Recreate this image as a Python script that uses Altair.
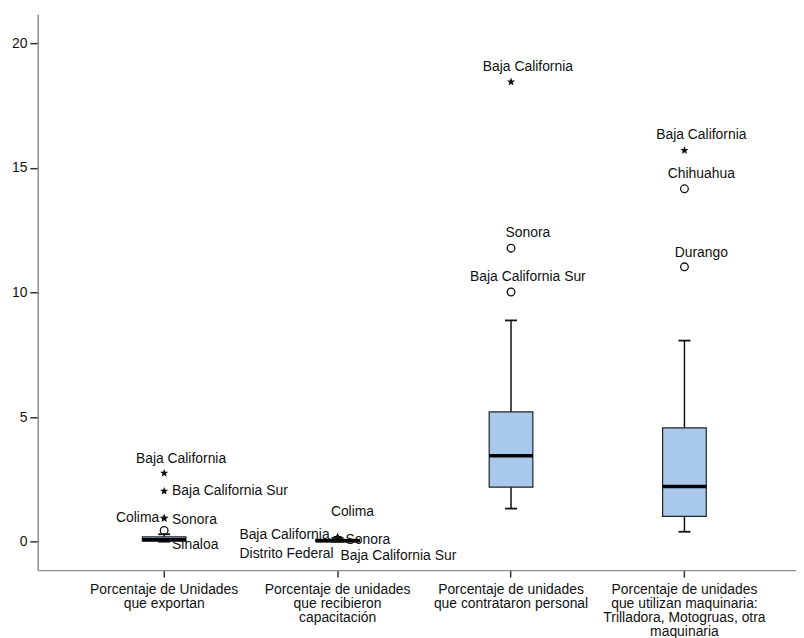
import math
import altair as alt
import pandas as pd

# ---- data ----
categories = [
    "Porcentaje de Unidades|que exportan",
    "Porcentaje de unidades|que recibieron|capacitación",
    "Porcentaje de unidades|que contrataron personal",
    "Porcentaje de unidades|que utilizan maquinaria:|Trilladora, Motogruas, otra|maquinaria",
]
whisker_low = [0.0, 0.0, 1.33, 0.40]
q1 = [0.02, 0.0, 2.19, 1.02]
median = [0.09, 0.04, 3.45, 2.22]
q3 = [0.20, 0.10, 5.21, 4.57]
whisker_high = [0.30, 0.15, 8.88, 8.07]

outlier_cat = [0, 0, 0, 0, 0, 1, 1, 1, 1, 1, 2, 2, 2, 3, 3, 3]
outlier_name = [
    "Baja California", "Baja California Sur", "Colima", "Sonora", "Sinaloa",
    "Colima", "Baja California", "Sonora", "Distrito Federal", "Baja California Sur",
    "Baja California", "Sonora", "Baja California Sur",
    "Baja California", "Chihuahua", "Durango",
]
outlier_value = [2.75, 2.03, 0.95, 0.93, 0.45,
                 0.17, 0.17, 0.17, 0.17, 0.17,
                 18.45, 11.78, 10.02,
                 15.70, 14.16, 11.03]
outlier_kind = ["extremo", "extremo", "extremo", "extremo", "atípico",
                "extremo", "extremo", "extremo", "extremo", "extremo",
                "extremo", "atípico", "atípico",
                "extremo", "atípico", "atípico"]

# ---- label placement (style only) ----
label_align = ["center", "left", "right", "left", "left",
               "center", "right", "left", "right", "left",
               "center", "center", "center",
               "center", "center", "center"]
label_dx = [17, 8, -5, 8, 8,
            15, -8, 8, -4, 3,
            17, 17, 17,
            17, 17, 17]
label_dy = [-14, 0, 0, 2, 15,
            -26, -2, 3, 17, 19,
            -15, -15, -15,
            -16, -15, -14]

# ---- tables ----
boxes = pd.DataFrame({
    "cat": categories,
    "lo": whisker_low, "q1": q1, "med": median, "q3": q3, "hi": whisker_high,
})
outl = pd.DataFrame({
    "i": list(range(len(outlier_name))),
    "cat": [categories[c] for c in outlier_cat],
    "name": outlier_name,
    "value": outlier_value,
    "kind": outlier_kind,
})

FONT = "Liberation Sans"
BOX_W = 44

pts = []
for k in range(10):
    r = 1.0 if k % 2 == 0 else 0.42
    a = math.radians(-90 + 36 * k)
    pts.append(f"{r * math.cos(a):.3f},{r * math.sin(a):.3f}")
STAR = "M" + " L".join(pts) + " Z"

x_enc = alt.X(
    "cat:N",
    sort=categories,
    scale=alt.Scale(paddingInner=0, paddingOuter=0.186, align=0.615),
    axis=alt.Axis(
        title=None, labelAngle=0, labelExpr="split(datum.label, '|')",
        labelFontSize=14, labelLineHeight=14, labelFont=FONT, labelColor="#111",
        labelPadding=6, tickSize=7, tickColor="#333", tickWidth=1.5,
        domainColor="#8c8c8c", domainWidth=1.5, labelBaseline="top",
    ),
)
y_scale = alt.Scale(domain=[-1.14, 21.16], nice=False, zero=False)
y_axis = alt.Axis(
    title=None, values=[0, 5, 10, 15, 20], grid=False,
    labelFontSize=14, labelFont=FONT, labelColor="#111", labelPadding=3,
    tickSize=8, tickColor="#333", tickWidth=1.5,
    domainColor="#8c8c8c", domainWidth=1.5,
)

base = alt.Chart(boxes).encode(x=x_enc)

whisk = base.mark_rule(color="#111", strokeWidth=1.5).encode(
    y=alt.Y("lo:Q", scale=y_scale, axis=y_axis), y2="hi:Q")
caps_lo = base.mark_tick(color="#111", size=12, thickness=1.8, opacity=1).encode(
    y=alt.Y("lo:Q", scale=y_scale))
caps_hi = base.mark_tick(color="#111", size=12, thickness=1.8, opacity=1).encode(
    y=alt.Y("hi:Q", scale=y_scale))
box = base.mark_bar(size=BOX_W, fill="#a8c9ec", stroke="#222", strokeWidth=1.2).encode(
    y=alt.Y("q1:Q", scale=y_scale), y2="q3:Q")
med = base.mark_tick(color="#000", size=BOX_W, thickness=3.5, opacity=1).encode(
    y=alt.Y("med:Q", scale=y_scale))

obase = alt.Chart(outl).encode(x=x_enc, y=alt.Y("value:Q", scale=y_scale))
circles = obase.transform_filter(alt.datum.kind == "atípico").mark_point(
    shape="circle", filled=False, color="#111", size=60, strokeWidth=1.3, opacity=1)
stars = obase.transform_filter(alt.datum.kind == "extremo").mark_point(
    shape=STAR, filled=True, color="#111", size=75, opacity=1)

layers = [whisk, box, med, caps_lo, caps_hi, circles, stars]

combos = {}
for i, (al, dx, dy) in enumerate(zip(label_align, label_dx, label_dy)):
    combos.setdefault((al, dx, dy), []).append(i)
for (al, dx, dy), idx in combos.items():
    layers.append(
        obase.transform_filter(alt.FieldOneOfPredicate(field="i", oneOf=idx))
        .mark_text(align=al, dx=dx, dy=dy, baseline="middle", font=FONT,
                   fontSize=14, color="#111")
        .encode(text="name:N")
    )

chart = alt.layer(*layers).properties(
    width=764, height=560,
    autosize=alt.AutoSizeParams(type="none"),
    padding={"left": 30, "top": 4, "right": 0, "bottom": 70},
).configure(background="white").configure_view(stroke=None)

chart.save("out.html", embed_options={"renderer": "svg", "actions": False})
